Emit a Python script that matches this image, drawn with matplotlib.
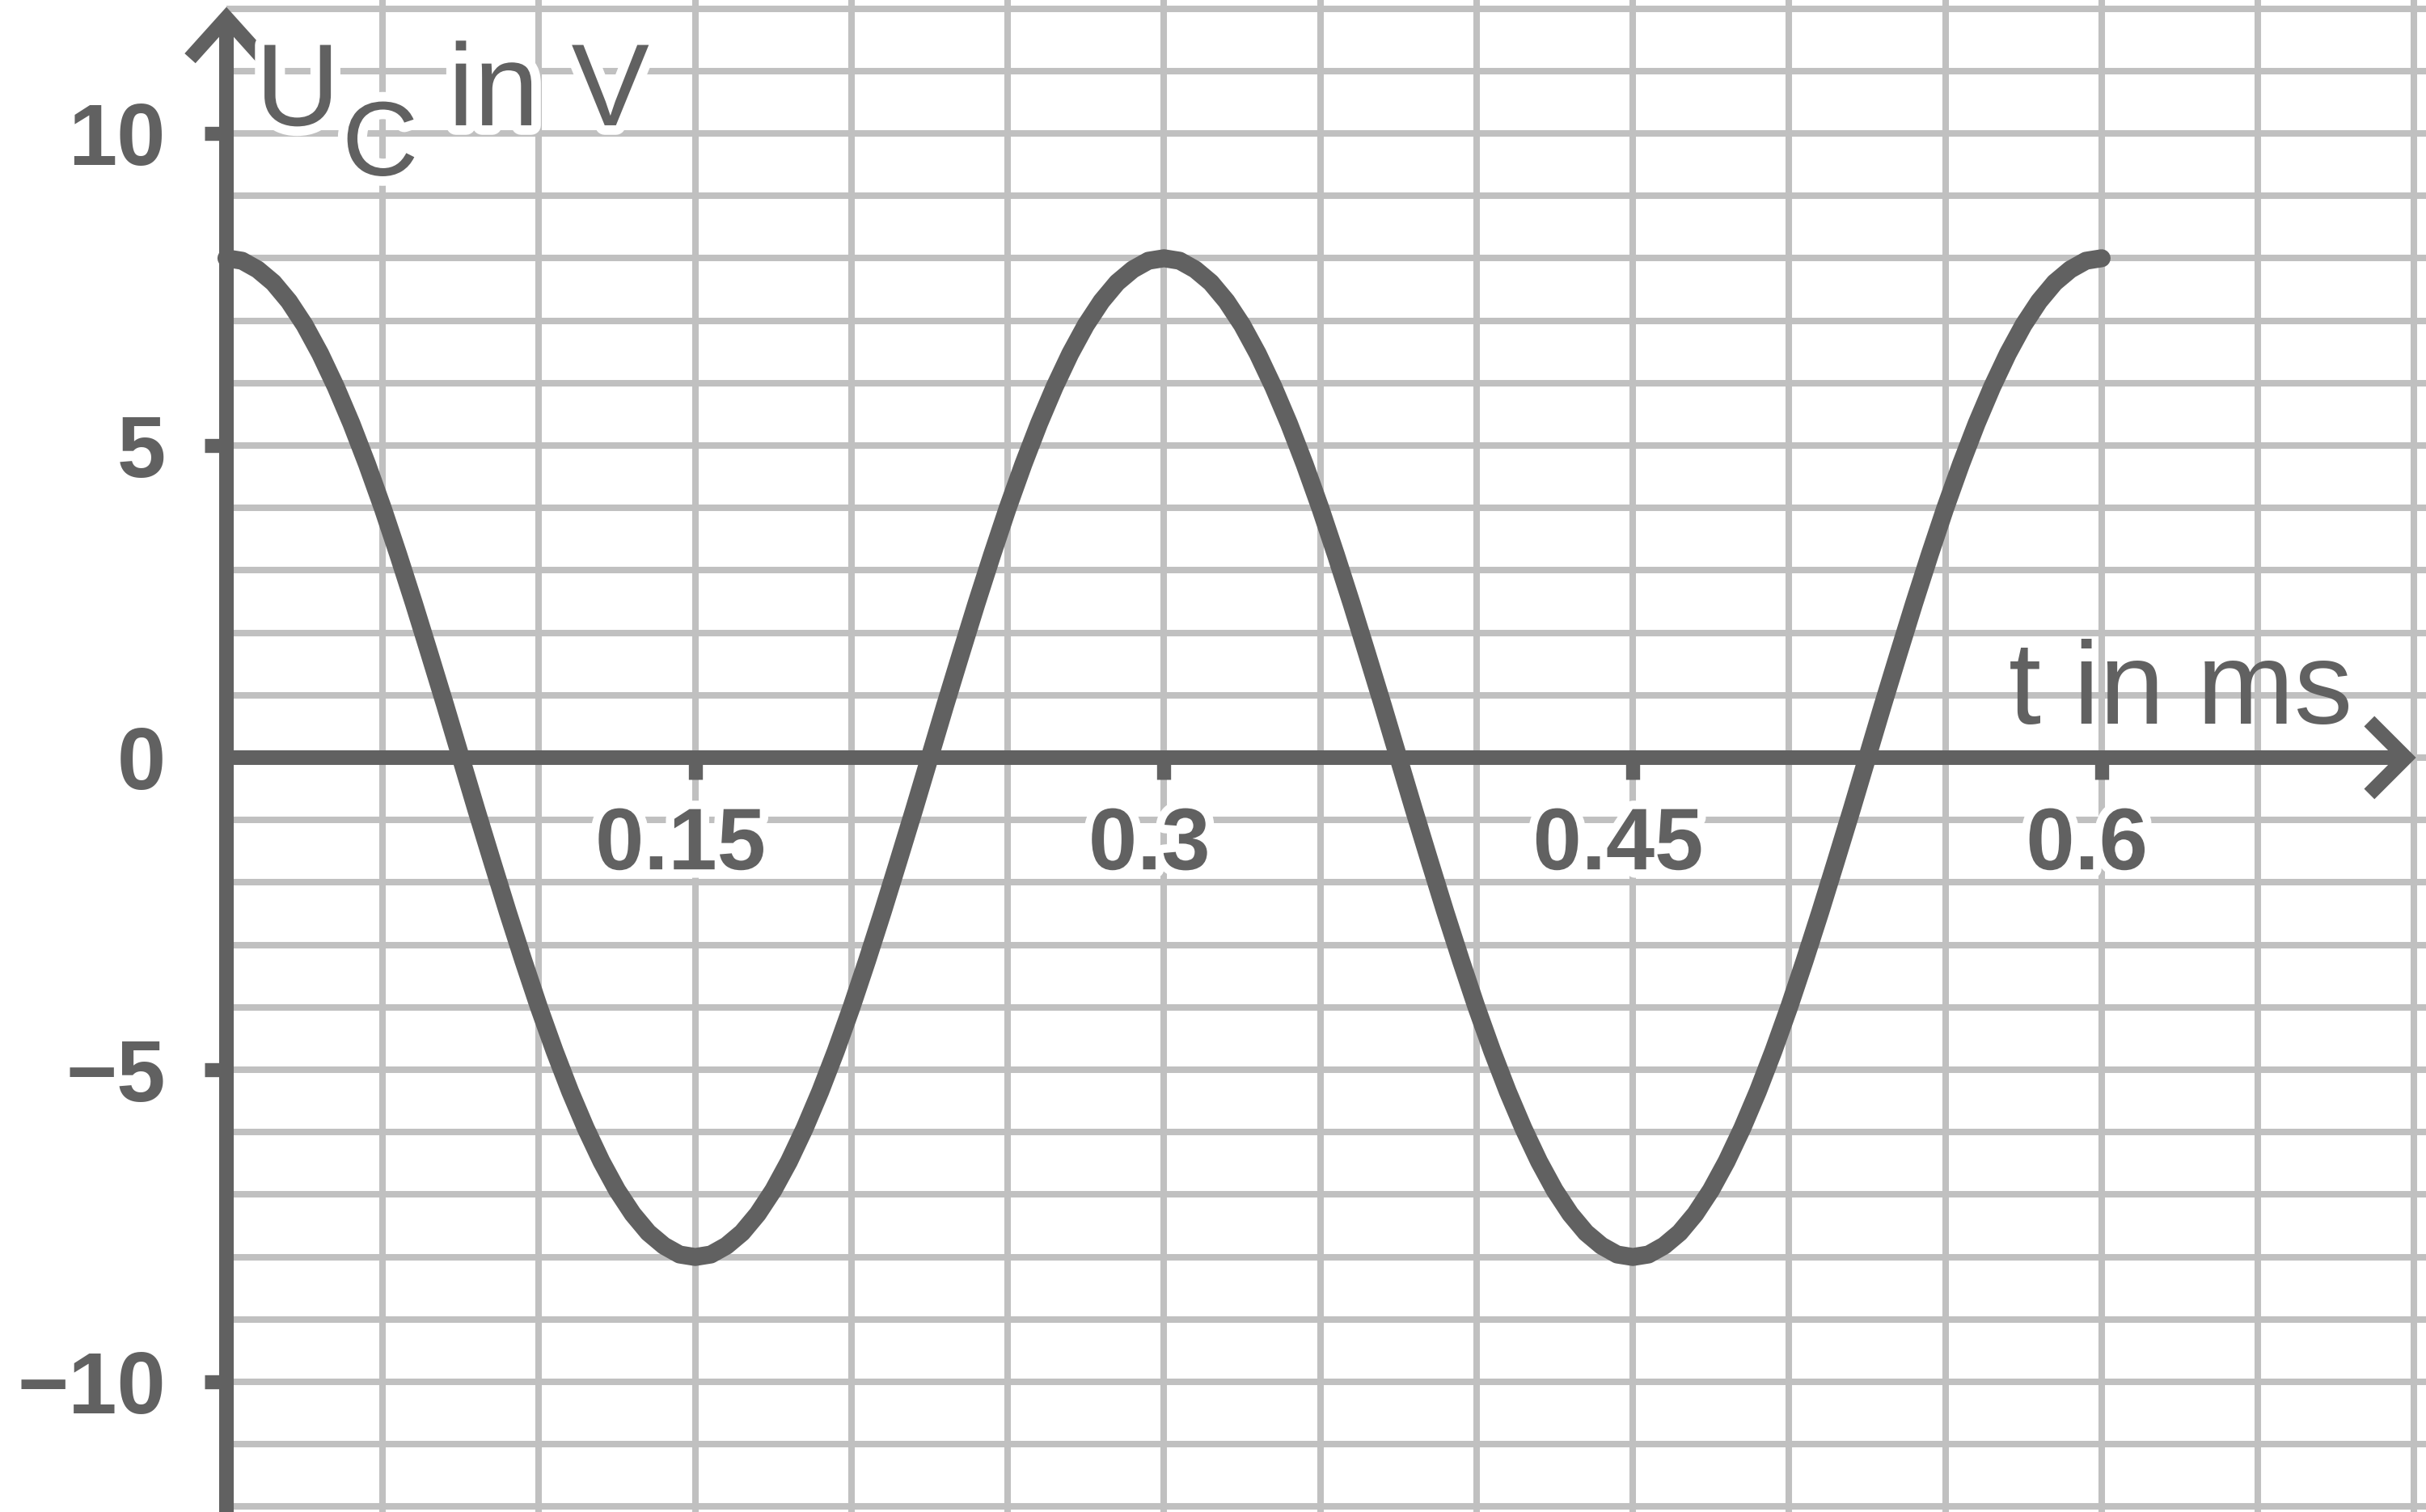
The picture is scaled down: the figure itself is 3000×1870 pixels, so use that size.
import matplotlib.pyplot as plt
import matplotlib.patheffects as pe

plt.switch_backend("Agg")

t_ms = [0.000, 0.005, 0.010, 0.015, 0.020, 0.025, 0.030, 0.035, 0.040, 0.045,
        0.050, 0.055, 0.060, 0.065, 0.070, 0.075, 0.080, 0.085, 0.090, 0.095,
        0.100, 0.105, 0.110, 0.115, 0.120, 0.125, 0.130, 0.135, 0.140, 0.145,
        0.150, 0.155, 0.160, 0.165, 0.170, 0.175, 0.180, 0.185, 0.190, 0.195,
        0.200, 0.205, 0.210, 0.215, 0.220, 0.225, 0.230, 0.235, 0.240, 0.245,
        0.250, 0.255, 0.260, 0.265, 0.270, 0.275, 0.280, 0.285, 0.290, 0.295,
        0.300, 0.305, 0.310, 0.315, 0.320, 0.325, 0.330, 0.335, 0.340, 0.345,
        0.350, 0.355, 0.360, 0.365, 0.370, 0.375, 0.380, 0.385, 0.390, 0.395,
        0.400, 0.405, 0.410, 0.415, 0.420, 0.425, 0.430, 0.435, 0.440, 0.445,
        0.450, 0.455, 0.460, 0.465, 0.470, 0.475, 0.480, 0.485, 0.490, 0.495,
        0.500, 0.505, 0.510, 0.515, 0.520, 0.525, 0.530, 0.535, 0.540, 0.545,
        0.550, 0.555, 0.560, 0.565, 0.570, 0.575, 0.580, 0.585, 0.590, 0.595,
        0.600]
u_c = [8.00, 7.96, 7.82, 7.61, 7.31, 6.93, 6.47, 5.94, 5.35, 4.70,
       4.00, 3.25, 2.47, 1.66, 0.84, 0.00, -0.84, -1.66, -2.47, -3.25,
       -4.00, -4.70, -5.35, -5.94, -6.47, -6.93, -7.31, -7.61, -7.82, -7.96,
       -8.00, -7.96, -7.82, -7.61, -7.31, -6.93, -6.47, -5.94, -5.35, -4.70,
       -4.00, -3.25, -2.47, -1.66, -0.84, 0.00, 0.84, 1.66, 2.47, 3.25,
       4.00, 4.70, 5.35, 5.94, 6.47, 6.93, 7.31, 7.61, 7.82, 7.96,
       8.00, 7.96, 7.82, 7.61, 7.31, 6.93, 6.47, 5.94, 5.35, 4.70,
       4.00, 3.25, 2.47, 1.66, 0.84, 0.00, -0.84, -1.66, -2.47, -3.25,
       -4.00, -4.70, -5.35, -5.94, -6.47, -6.93, -7.31, -7.61, -7.82, -7.96,
       -8.00, -7.96, -7.82, -7.61, -7.31, -6.93, -6.47, -5.94, -5.35, -4.70,
       -4.00, -3.25, -2.47, -1.66, -0.84, 0.00, 0.84, 1.66, 2.47, 3.25,
       4.00, 4.70, 5.35, 5.94, 6.47, 6.93, 7.31, 7.61, 7.82, 7.96,
       8.00]

x_ticks = [0.15, 0.3, 0.45, 0.6]
x_tick_labels = ["0.15", "0.3", "0.45", "0.6"]
y_ticks = [10, 5, 0, -5, -10]
y_tick_labels = ["10", "5", "0", "\u22125", "\u221210"]
x_grid = [0.05 * i for i in range(1, 15)]
y_grid = list(range(-12, 13))

DARK = "#616161"
GRID = "#c0c0c0"
FONT = "Liberation Sans"

XMIN, XMAX = -0.07245, 0.7038
YMIN, YMAX = -12.085, 12.137
PX_X = 3865.0   # Pixel pro ms
PX_Y = 77.2     # Pixel pro V

fig = plt.figure(figsize=(30, 18.7), dpi=100)
ax = fig.add_axes([0, 0, 1, 1])
ax.set_xlim(XMIN, XMAX)
ax.set_ylim(YMIN, YMAX)
ax.set_facecolor("white")

# Raster nur rechts der y-Achse
ax.hlines(y_grid, 0, XMAX, colors=GRID, linewidth=5.8, zorder=1)
ax.vlines(x_grid, YMIN, YMAX, colors=GRID, linewidth=5.8, zorder=1)

# Achsen
x_tip = 0.6973
y_tip = 11.85
for side in ["top", "right"]:
    ax.spines[side].set_visible(False)
ax.spines["left"].set_position(("data", 0))
ax.spines["bottom"].set_position(("data", 0))
ax.spines["left"].set_bounds(YMIN, y_tip)
ax.spines["bottom"].set_bounds(0, x_tip)
for side in ["left", "bottom"]:
    ax.spines[side].set_linewidth(13)
    ax.spines[side].set_color(DARK)
    ax.spines[side].set_capstyle("butt")
ax.set_xticks(x_ticks)
ax.set_yticks([v for v in y_ticks if v != 0])
ax.set_xticklabels([])
ax.set_yticklabels([])
ax.tick_params(direction="out", length=19.5, width=12.5, color=DARK)

# Pfeilspitzen
dx, dy = 45 / PX_X, 45 / PX_Y
ax.plot([x_tip - dx, x_tip, x_tip - dx], [dy, 0, -dy], color=DARK, lw=13,
        solid_joinstyle="miter", solid_capstyle="butt", zorder=3, clip_on=False)
dx, dy = 45 / PX_X, 50 / PX_Y
ax.plot([-dx, 0, dx], [y_tip - dy, y_tip, y_tip - dy], color=DARK, lw=13,
        solid_joinstyle="miter", solid_capstyle="butt", zorder=3, clip_on=False)

# Kurve
ax.plot(t_ms, u_c, color=DARK, lw=16, solid_capstyle="round",
        solid_joinstyle="round", zorder=4)

halo = [pe.withStroke(linewidth=15, foreground="white")]

for v, lab in zip(x_ticks, x_tick_labels):
    ax.text(v - 0.0047, -1.79, lab, ha="center", va="baseline", fontsize=78,
            fontweight="bold", family=FONT, color=DARK, zorder=5,
            path_effects=halo)
for v, lab in zip(y_ticks, y_tick_labels):
    ax.text(-0.0194, v - 0.51, lab, ha="right", va="baseline", fontsize=78,
            fontweight="bold", family=FONT, color=DARK, zorder=5)

# Achsenbeschriftungen
halo_lab = [pe.withStroke(linewidth=17, foreground="white")]
ax.text(0.0093, 10.13, "U", ha="left", va="baseline", fontsize=104,
        family=FONT, color=DARK, zorder=5, path_effects=halo_lab)
ax.text(0.0370, 9.33, "C", ha="left", va="baseline", fontsize=94,
        family=FONT, color=DARK, zorder=5, path_effects=halo_lab)
ax.text(0.0709, 10.13, "in V", ha="left", va="baseline", fontsize=104,
        family=FONT, color=DARK, zorder=5, path_effects=halo_lab)
ax.text(0.5703, 0.544, "t in ms", ha="left", va="baseline", fontsize=104,
        family=FONT, color=DARK, zorder=5)

fig.savefig("out.png", dpi=100)
plt.close(fig)
